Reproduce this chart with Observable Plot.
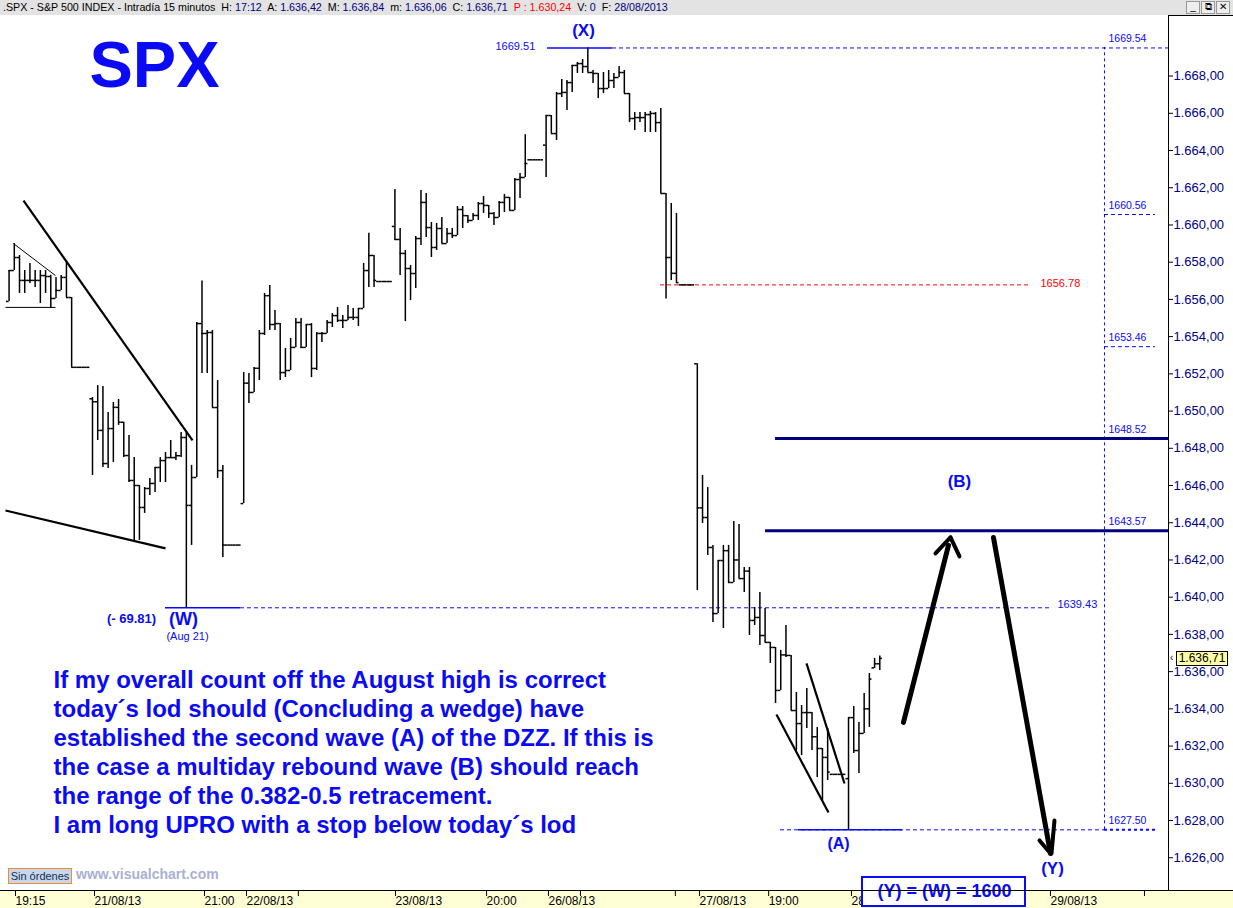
<!DOCTYPE html>
<html>
<head>
<meta charset="utf-8">
<script src="https://cdn.jsdelivr.net/npm/d3@7"></script>
<script src="https://cdn.jsdelivr.net/npm/@observablehq/plot@0.6"></script>
<style>
  body { margin: 0; background: #fff; font-family: "Liberation Sans", Arial, sans-serif; }
  #wrap { position: relative; width: 1233px; height: 908px; overflow: hidden; background: #fff; }
  #hdr { position: absolute; left: 0; top: 0; width: 1233px; height: 15px; background: #e3e3e3;
         font-size: 10.7px; line-height: 15px; white-space: nowrap; color: #000; }
  #hdr .v { color: #000080; }
  #hdr .r { color: #ff0000; }
  #btns { position: absolute; right: 3px; top: 1px; display: flex; gap: 1px; }
  #btns span { display: inline-block; width: 12px; height: 11px; border: 1px solid #999; background: #eee;
               font-size: 10px; line-height: 10px; text-align: center; color: #000; }
  #chart { position: absolute; left: 0; top: 15px; }
  #axisTop { position: absolute; left: 1168px; top: 15px; width: 65px; height: 1px; background: #000; }
  #bandLine { position: absolute; left: 0; top: 890px; width: 1233px; height: 1px; background: #000; }
  #orders { position: absolute; left: 8px; top: 868px; width: 62px; height: 14px; background: #c9d7ee;
            border: 1px solid #f08a30; font-size: 11px; line-height: 14px; color: #10304a; text-align: center; }
  #brand { position: absolute; left: 76px; top: 866px; font-size: 14px; font-weight: bold; color: #aab0d2; }
  #lastPrice { position: absolute; left: 1176px; width: 50px; height: 13px; background: #ffffa8; border: 1px solid #000;
               font-size: 12px; line-height: 13px; color: #000; text-align: center; }
  #lastArrow { position: absolute; left: 1170px; font-size: 10px; line-height: 10px; color: #000; }
</style>
</head>
<body>
<div id="wrap">
  <div id="hdr">&nbsp;.SPX - S&amp;P 500 INDEX - Intradía 15 minutos&nbsp; H: <span class="v">17:12</span>&nbsp; A: <span class="v">1.636,42</span>&nbsp; M: <span class="v">1.636,84</span>&nbsp; m: <span class="v">1.636,06</span>&nbsp; C: <span class="v">1.636,71</span>&nbsp; <span class="r">P : 1.630,24</span>&nbsp; V: <span class="v">0</span>&nbsp; F: <span class="v">28/08/2013</span>
    <div id="btns"><span>_</span><span>&#x29C9;</span><span>&#x2715;</span></div>
  </div>
  <div id="chart"></div>
  <div id="axisTop"></div>
  <div id="bandLine"></div>
  <div id="orders">Sin órdenes</div>
  <div id="brand">www.visualchart.com</div>
  <div id="lastArrow">&#x2039;</div>
  <div id="lastPrice">1.636,71</div>
</div>
<script>
// ---- Sessions (15-minute bars, 29 slots per session incl. after-hours prints) ----
const sessions = ["20/08/13", "21/08/13", "22/08/13", "23/08/13", "26/08/13", "27/08/13", "28/08/13"];
const slotsPerSession = 29;
const firstSlotShown = 13; // the first session enters the window part-way through

// OHLC per bar: [open, high, low, close]
const aug20 = [
  [1655.89, 1657.55, 1655.89, 1657.55], [1657.55, 1659.00, 1657.55, 1658.25], [1658.25, 1658.36, 1656.32, 1657.02],
  [1657.02, 1657.55, 1656.32, 1657.02], [1657.02, 1657.93, 1656.85, 1657.02], [1657.02, 1657.55, 1656.64, 1657.02],
  [1657.02, 1657.55, 1655.78, 1657.28], [1657.28, 1657.55, 1656.32, 1657.23], [1657.23, 1657.30, 1655.51, 1656.05],
  [1656.05, 1657.18, 1656.05, 1656.48], [1656.48, 1657.28, 1656.48, 1657.18], [1657.18, 1657.98, 1656.10, 1656.10],
  [1656.10, 1656.10, 1652.35, 1652.35],
  [1652.35, 1652.35, 1652.35, 1652.35], [1652.35, 1652.35, 1652.35, 1652.35], [1652.35, 1652.35, 1652.35, 1652.35]
];
const aug21 = [
  [1650.66, 1650.73, 1646.54, 1650.50], [1650.50, 1651.37, 1648.42, 1648.96], [1648.96, 1651.32, 1646.97, 1647.18],
  [1647.18, 1649.92, 1646.91, 1649.06], [1649.06, 1650.46, 1647.24, 1650.20], [1650.20, 1650.62, 1649.23, 1649.40],
  [1649.40, 1649.40, 1647.50, 1647.61], [1647.61, 1648.69, 1646.16, 1646.27], [1646.27, 1647.50, 1643.05, 1646.00],
  [1646.00, 1646.00, 1643.05, 1644.82], [1644.82, 1645.89, 1644.50, 1645.84], [1645.84, 1646.38, 1645.46, 1646.11],
  [1646.11, 1646.97, 1645.63, 1646.97], [1646.97, 1647.50, 1646.16, 1647.34], [1647.34, 1647.77, 1646.16, 1647.50],
  [1647.50, 1648.42, 1647.45, 1647.50], [1647.50, 1647.77, 1647.34, 1647.60], [1647.60, 1648.85, 1647.50, 1648.58],
  [1648.58, 1648.85, 1639.43, 1644.93], [1644.93, 1647.08, 1642.78, 1646.43], [1646.43, 1654.76, 1646.43, 1654.70],
  [1654.70, 1656.99, 1652.02, 1654.17], [1654.17, 1654.33, 1652.02, 1654.22], [1654.22, 1654.33, 1650.19, 1650.19],
  [1650.19, 1651.64, 1646.38, 1646.80], [1646.80, 1647.08, 1642.13, 1642.80],
  [1642.80, 1642.80, 1642.80, 1642.80], [1642.80, 1642.80, 1642.80, 1642.80], [1642.80, 1642.80, 1642.80, 1642.80]
];
const aug22 = [
  [1645.03, 1652.07, 1645.03, 1651.50], [1651.50, 1652.02, 1650.41, 1651.00], [1651.00, 1652.34, 1651.00, 1652.30],
  [1652.30, 1654.33, 1651.64, 1654.17], [1654.17, 1656.32, 1654.06, 1656.20], [1656.20, 1656.75, 1654.33, 1654.65],
  [1654.65, 1655.40, 1654.33, 1654.70], [1654.70, 1654.70, 1651.64, 1652.07], [1652.07, 1653.36, 1651.80, 1652.18],
  [1652.18, 1653.90, 1652.18, 1653.42], [1653.42, 1654.97, 1653.42, 1654.76], [1654.76, 1654.97, 1653.36, 1653.42],
  [1653.42, 1654.65, 1653.42, 1654.65], [1654.65, 1654.70, 1651.80, 1652.29], [1652.29, 1654.22, 1652.18, 1654.17],
  [1654.17, 1654.22, 1653.68, 1654.17], [1654.17, 1654.87, 1654.17, 1654.76], [1654.76, 1655.24, 1654.49, 1655.13],
  [1655.13, 1655.56, 1654.76, 1654.87], [1654.87, 1655.13, 1654.44, 1654.87], [1654.87, 1655.67, 1654.87, 1655.03],
  [1655.03, 1655.51, 1654.87, 1655.03], [1655.03, 1655.51, 1654.54, 1655.51], [1655.51, 1657.93, 1655.51, 1657.55],
  [1657.55, 1659.55, 1656.64, 1658.36], [1658.36, 1658.36, 1656.64, 1657.02],
  [1656.96, 1656.96, 1656.96, 1656.96], [1656.96, 1656.96, 1656.96, 1656.96], [1656.96, 1656.96, 1656.96, 1656.96]
];
const aug23 = [
  [1659.92, 1661.90, 1659.16, 1659.22], [1659.22, 1659.81, 1657.28, 1658.47], [1658.47, 1658.63, 1654.81, 1657.66],
  [1657.66, 1657.82, 1655.94, 1657.39], [1657.39, 1659.38, 1656.59, 1659.27], [1659.27, 1661.85, 1658.90, 1661.21],
  [1661.21, 1661.69, 1659.33, 1659.86], [1659.86, 1660.13, 1658.25, 1658.79], [1658.79, 1660.08, 1658.63, 1659.81],
  [1659.81, 1660.40, 1659.00, 1659.00], [1659.00, 1659.81, 1659.00, 1659.54], [1659.54, 1659.81, 1659.27, 1659.43],
  [1659.43, 1660.99, 1659.43, 1660.83], [1660.83, 1660.99, 1659.81, 1660.50], [1660.50, 1660.51, 1660.08, 1660.24],
  [1660.24, 1660.62, 1660.24, 1660.51], [1660.51, 1661.21, 1660.24, 1661.15], [1661.15, 1661.53, 1660.62, 1661.05],
  [1661.05, 1661.05, 1660.35, 1660.62], [1660.62, 1660.67, 1659.97, 1660.40], [1660.40, 1661.26, 1660.40, 1661.21],
  [1661.21, 1661.64, 1660.67, 1661.48], [1661.48, 1661.48, 1660.78, 1660.78], [1660.78, 1662.50, 1660.78, 1662.44],
  [1662.44, 1662.76, 1661.42, 1662.55], [1662.55, 1664.85, 1662.55, 1663.30],
  [1663.50, 1663.50, 1663.50, 1663.50], [1663.50, 1663.50, 1663.50, 1663.50], [1663.50, 1663.50, 1663.50, 1663.50]
];
const aug26 = [
  [1664.29, 1665.88, 1662.55, 1665.88], [1665.88, 1665.88, 1664.91, 1664.91], [1664.91, 1667.12, 1664.54, 1667.06],
  [1667.06, 1667.82, 1666.85, 1667.12], [1667.12, 1667.76, 1666.15, 1667.65], [1667.65, 1668.57, 1667.12, 1668.57],
  [1668.57, 1668.73, 1668.14, 1668.67], [1668.67, 1668.89, 1668.14, 1668.51], [1668.51, 1669.51, 1668.19, 1668.19],
  [1668.19, 1668.30, 1667.60, 1668.14], [1668.14, 1668.14, 1666.79, 1667.33], [1667.33, 1668.19, 1667.06, 1667.33],
  [1667.33, 1668.30, 1667.33, 1667.76], [1667.76, 1668.14, 1667.33, 1667.92], [1667.92, 1668.51, 1667.92, 1668.19],
  [1668.19, 1668.30, 1667.06, 1667.06], [1667.06, 1667.06, 1665.50, 1665.72], [1665.72, 1666.04, 1665.07, 1665.77],
  [1665.77, 1666.04, 1665.50, 1665.77], [1665.77, 1666.04, 1664.97, 1665.93], [1665.93, 1666.10, 1664.97, 1665.99],
  [1665.99, 1666.04, 1664.97, 1665.50], [1665.50, 1666.26, 1661.69, 1661.69], [1661.69, 1661.69, 1656.02, 1658.25],
  [1658.25, 1661.15, 1657.02, 1657.40], [1657.40, 1660.62, 1656.85, 1656.90],
  [1656.78, 1656.78, 1656.78, 1656.78], [1656.78, 1656.78, 1656.78, 1656.78], [1656.78, 1656.78, 1656.78, 1656.78]
];
const aug27 = [
  [1652.54, 1652.54, 1640.36, 1644.80], [1644.80, 1646.54, 1643.96, 1644.28], [1644.28, 1645.89, 1642.24, 1642.67],
  [1642.67, 1642.78, 1638.64, 1639.12], [1639.12, 1641.97, 1639.12, 1641.97], [1641.97, 1642.78, 1638.32, 1642.50],
  [1642.50, 1642.78, 1640.74, 1640.79], [1640.79, 1644.07, 1640.79, 1642.00], [1642.00, 1643.91, 1641.00, 1641.00],
  [1641.00, 1641.60, 1640.25, 1641.40], [1641.40, 1641.60, 1637.94, 1638.75], [1638.75, 1639.45, 1638.48, 1638.91],
  [1638.91, 1640.25, 1637.40, 1637.94], [1637.94, 1639.39, 1637.57, 1637.57], [1637.57, 1637.57, 1636.44, 1637.30],
  [1637.30, 1637.30, 1634.29, 1634.99], [1634.99, 1637.14, 1634.99, 1636.90], [1636.90, 1638.48, 1636.76, 1636.87],
  [1636.87, 1636.87, 1633.91, 1633.91], [1633.91, 1634.88, 1631.76, 1633.21], [1633.21, 1634.18, 1631.49, 1633.80],
  [1633.80, 1635.09, 1632.94, 1633.80], [1633.80, 1633.80, 1631.76, 1632.50], [1632.50, 1633.00, 1630.31, 1631.87],
  [1631.87, 1631.87, 1629.05, 1631.39], [1631.39, 1632.94, 1630.15, 1630.60],
  [1630.48, 1630.48, 1630.48, 1630.48], [1630.48, 1630.48, 1630.48, 1630.48], [1630.48, 1630.48, 1630.48, 1630.48]
];
const aug28 = [
  [1630.25, 1633.53, 1627.47, 1633.53], [1633.53, 1634.13, 1631.60, 1631.76], [1631.76, 1633.27, 1630.53, 1632.68],
  [1632.68, 1634.82, 1632.68, 1634.00], [1634.00, 1635.90, 1633.00, 1635.60], [1636.20, 1636.71, 1636.17, 1636.42],
  [1636.42, 1636.84, 1636.06, 1636.71]
];
const sessionBars = [aug20, aug21, aug22, aug23, aug26, aug27, aug28];
const lastClose = 1636.71;

// ---- Time axis ticks (bar-slot positions, 0 = first bar of 21/08) ----
const timeTickAt = [-15.15, 0, 21.1, 29.15, 39.1, 57.73, 75.2, 87.07, 93.2, 111.4, 116.03, 129.3, 145.18, 183.35, 201.38];
const timeTickLabel = ["19:15", "21/08/13", "21:00", "22/08/13", "", "23/08/13", "20:00", "26/08/13", "", "", "27/08/13", "19:00", "28/08/13", "29/08/13", ""];
const priceTicks = d3.range(1626, 1669, 2);

// ---- Wave-count levels ----
const xHigh = 1669.51, wLow = 1639.43, aLow = 1627.50, fibTop = 1669.54;
const fibLevels = [1660.56, 1653.46, 1648.52, 1643.57];
const prevSessionClose = 1656.78;

// ---- Hand-drawn trendlines and arrows (slot, price) ----
const trendLines = [
  {x1: -13.23, y1: 1661.31, x2: 19.18, y2: 1648.42},
  {x1: -16.69, y1: 1644.66, x2: 14.0, y2: 1642.62},
  {x1: 131.18, y1: 1633.70, x2: 141.16, y2: 1628.43},
  {x1: 136.94, y1: 1636.44, x2: 144.23, y2: 1629.99}
];
const thinLines = [
  {x1: -15.15, y1: 1659.0, x2: -7.10, y2: 1657.28},
  {x1: -16.69, y1: 1655.57, x2: -7.10, y2: 1655.57}
];
const arrowShafts = [
  {x1: 155.54, y1: 1633.27, x2: 164.17, y2: 1642.78},
  {x1: 172.80, y1: 1643.21, x2: 183.74, y2: 1626.23}
];
const arrowWings = [
  {x1: 161.68, y1: 1642.35, x2: 164.56, y2: 1643.21},
  {x1: 164.56, y1: 1643.21, x2: 166.28, y2: 1642.19},
  {x1: 181.63, y1: 1626.93, x2: 183.74, y2: 1626.23},
  {x1: 184.50, y1: 1628.00, x2: 183.93, y2: 1626.23}
];

const commentary = [
  "If my overall count off the August high is correct",
  "today\u00B4s lod should (Concluding a wedge) have",
  "established the second wave (A) of the DZZ. If this is",
  "the case a multiday rebound wave (B) should reach",
  "the range of the 0.382-0.5 retracement.",
  "I am long UPRO with a stop below today\u00B4s lod"
];

// ---- Build the bar table ----
const bars = [];
sessionBars.forEach((rows, s) => {
  const start = s === 0 ? firstSlotShown : 0;
  rows.forEach(([open, high, low, close], k) => {
    const slot = start + k;
    bars.push({i: (s - 1) * slotsPerSession + slot, session: sessions[s], slot, open, high, low, close});
  });
});

const blue = "#0a0af5", navy = "#000080";
const font = "Liberation Sans, Arial, sans-serif";
const xMin = -17.645, xMax = 206.37;
const priceFmt = d3.formatLocale({decimal: ",", thousands: ".", grouping: [3], currency: ["", ""]}).format(",.2f");

const hSeg = (y, x1, x2) => ({y, x1, x2});
const txt = (x, y, text, o = {}) => Plot.text([{x, y, text}], {x: "x", y: "y", text: "text", fontFamily: font, lineAnchor: "middle", ...o});

const chart = Plot.plot({
  width: 1233,
  height: 893,
  marginLeft: 0,
  marginRight: 65,
  marginTop: 0,
  marginBottom: 18,
  style: {background: "linear-gradient(to bottom, #ffffff 875px, #ffffd6 875px)", overflow: "visible", fontFamily: font},
  x: {type: "linear", domain: [xMin, xMax]},
  y: {type: "linear", domain: [1624.24, 1671.254]},
  marks: [
    // levels
    Plot.ruleY([hSeg(xHigh, 87.27, 99.73)], {y: "y", x1: "x1", x2: "x2", stroke: blue, strokeWidth: 1.5}),
    Plot.ruleY([hSeg(xHigh, 99.73, xMax)], {y: "y", x1: "x1", x2: "x2", stroke: blue, strokeDasharray: "4,3"}),
    Plot.ruleX([194.09], {y1: aLow, y2: fibTop, stroke: blue, strokeDasharray: "3,3"}),
    Plot.ruleY(fibLevels.slice(0, 2).map(v => hSeg(v, 194.09, 203.87)), {y: "y", x1: "x1", x2: "x2", stroke: blue, strokeDasharray: "4,3"}),
    Plot.ruleY(fibLevels.slice(2).map((v, k) => hSeg(v, k === 0 ? 131.0 : 129.08, xMax)), {y: "y", x1: "x1", x2: "x2", stroke: navy, strokeWidth: 3}),
    Plot.ruleY([hSeg(aLow, 131.95, 194.09)], {y: "y", x1: "x1", x2: "x2", stroke: blue, strokeDasharray: "4,3"}),
    Plot.ruleY([hSeg(aLow, 194.09, 203.87)], {y: "y", x1: "x1", x2: "x2", stroke: blue, strokeWidth: 2, strokeDasharray: "3,3"}),
    Plot.ruleY([hSeg(aLow, 135.4, 155.35)], {y: "y", x1: "x1", x2: "x2", stroke: blue, strokeWidth: 1.5}),
    Plot.ruleY([hSeg(wLow, 14.0, 28.38)], {y: "y", x1: "x1", x2: "x2", stroke: blue, strokeWidth: 1.5}),
    Plot.ruleY([hSeg(wLow, 28.38, 183.74)], {y: "y", x1: "x1", x2: "x2", stroke: blue, strokeDasharray: "4,3"}),
    Plot.ruleY([hSeg(prevSessionClose, 108.94, 179.9)], {y: "y", x1: "x1", x2: "x2", stroke: "#ff0000", strokeDasharray: "4,3"}),

    // OHLC bars
    Plot.ruleX(bars, {x: "i", y1: "low", y2: "high", stroke: "#000", strokeWidth: 1.5}),
    Plot.ruleY(bars, {y: "open", x1: d => d.i - 0.5, x2: "i", stroke: "#000", strokeWidth: 1.5}),
    Plot.ruleY(bars, {y: "close", x1: "i", x2: d => d.i + 0.5, stroke: "#000", strokeWidth: 1.5}),

    // trendlines and arrows
    Plot.link(thinLines, {x1: "x1", y1: "y1", x2: "x2", y2: "y2", stroke: "#000", strokeWidth: 1}),
    Plot.link(trendLines, {x1: "x1", y1: "y1", x2: "x2", y2: "y2", stroke: "#000", strokeWidth: 2.2}),
    Plot.link(arrowShafts, {x1: "x1", y1: "y1", x2: "x2", y2: "y2", stroke: "#000", strokeWidth: 5, strokeLinecap: "round"}),
    Plot.link(arrowWings, {x1: "x1", y1: "y1", x2: "x2", y2: "y2", stroke: "#000", strokeWidth: 4, strokeLinecap: "round"}),

    // right price axis
    Plot.ruleX([xMax], {stroke: "#000"}),
    Plot.axisY({anchor: "right", ticks: priceTicks, tickFormat: priceFmt, tickSize: 4, tickPadding: 1,
                fontSize: 13, fill: navy, stroke: "#000", fontFamily: font}),
    // time axis
    Plot.axisX({anchor: "bottom", ticks: timeTickAt, tickFormat: (d, k) => timeTickLabel[k], tickSize: 6, tickPadding: 0,
                textAnchor: "start", dx: 2, fontSize: 12, fill: "#000", stroke: "#000", fontFamily: font}),

    // labels
    txt(11.89, 1668.51, "SPX", {fontSize: 65, fontWeight: "bold", fill: blue}),
    txt(94.17, 1670.45, "(X)", {fontSize: 17, fontWeight: "bold", fill: blue}),
    txt(77.29, 1669.59, "1669.51", {fontSize: 11, fill: blue, textAnchor: "start"}),
    txt(194.86, 1670.02, String(fibTop.toFixed(2)), {fontSize: 10.5, fill: blue, textAnchor: "start"}),
    Plot.text(fibLevels.concat([aLow]), {x: 194.86, y: d => d + 0.5, text: d => d.toFixed(2), fontSize: 10.5, fill: blue, textAnchor: "start", fontFamily: font}),
    txt(181.82, 1656.85, prevSessionClose.toFixed(2), {fontSize: 11, fill: "#ff0000", textAnchor: "start"}),
    txt(185.08, 1639.61, wLow.toFixed(2), {fontSize: 11, fill: blue, textAnchor: "start"}),
    txt(166.28, 1646.22, "(B)", {fontSize: 17, fontWeight: "bold", fill: blue}),
    txt(7.48, 1638.85, "(- 69.81)", {fontSize: 13, fontWeight: "bold", fill: blue}),
    txt(17.45, 1638.80, "(W)", {fontSize: 18, fontWeight: "bold", fill: blue}),
    txt(18.22, 1637.89, "(Aug 21)", {fontSize: 11, fill: blue}),
    txt(143.08, 1626.77, "(A)", {fontSize: 16, fontWeight: "bold", fill: blue}),
    txt(184.12, 1625.42, "(Y)", {fontSize: 17, fontWeight: "bold", fill: blue}),
    Plot.rect([{x1: 147.68, x2: 178.94, y1: 1623.38, y2: 1624.94}], {x1: "x1", x2: "x2", y1: "y1", y2: "y2", fill: "#fff", stroke: blue, strokeWidth: 2}),
    txt(163.41, 1624.19, "(Y) = (W) = 1600", {fontSize: 18, fontWeight: "bold", fill: blue}),
    txt(-7.48, 1631.74, commentary.join("\n"), {fontSize: 24, fontWeight: "bold", fill: blue, textAnchor: "start", lineHeight: 1.21})
  ]
});

document.getElementById("chart").appendChild(chart);

// last-price tag on the price axis
const yPx = chart.scale("y").apply(lastClose) + 15;
document.getElementById("lastPrice").style.top = (yPx - 7) + "px";
document.getElementById("lastPrice").textContent = priceFmt(lastClose);
document.getElementById("lastArrow").style.top = (yPx - 5) + "px";
</script>
</body>
</html>
